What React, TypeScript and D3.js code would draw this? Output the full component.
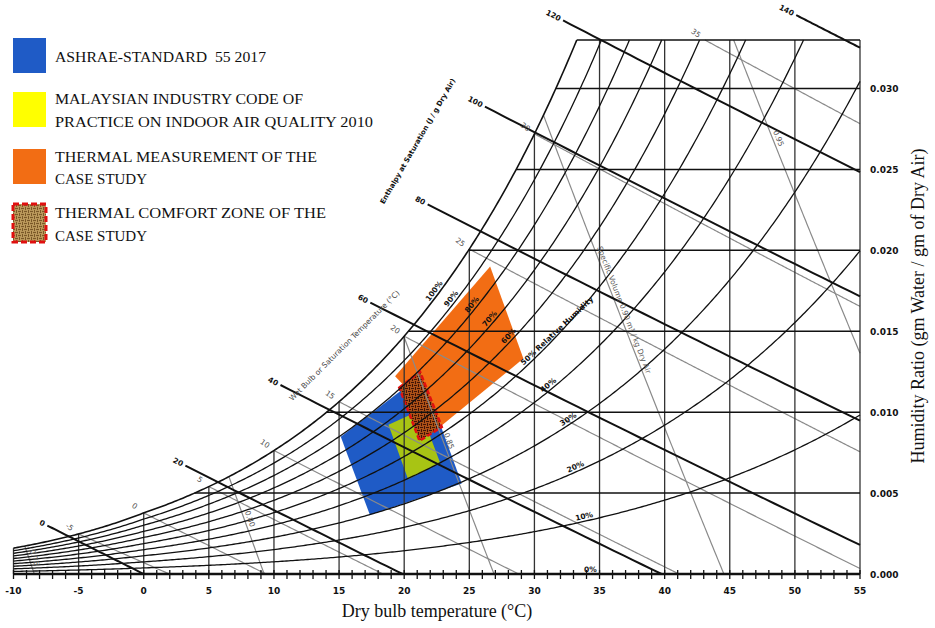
import React from 'react';
import * as d3 from 'd3';

// axis ticks
const dryBulbTicks = [-10, -5, 0, 5, 10, 15, 20, 25, 30, 35, 40, 45, 50, 55];
const humidityTicks = [0, 0.005, 0.01, 0.015, 0.02, 0.025, 0.03];
const humidityTickLabels = ['0.000', '0.005', '0.010', '0.015', '0.020', '0.025', '0.030'];

// relative humidity curves (%), labels and the dry bulb where each label sits
const rhLevels = [0, 10, 20, 30, 40, 50, 60, 70, 80, 90, 100];
const rhLabels = ['0%', '10%', '20%', '30%', '40%', '50% Relative Humidity', '60%', '70%', '80%', '90%', '100%'];
const rhLabelT = [34.3, 33.9, 33.3, 32.8, 31.3, 29.3, 28.3, 26.85, 25.5, 23.9, 22.6];

// enthalpy (J/g dry air) and dry bulb where each line starts outside saturation
const enthalpyLevels = [0, 20, 40, 60, 80, 100, 120, 140];
const enthalpyStartT = [-7.4, 3.2, 10.5, 17.4, 21.8, 26.2, 32.2, 50.1];

// wet bulb lines (°C)
const wetBulbLevels = [-5, 0, 5, 10, 15, 20, 25, 30, 35];
const wetBulbLabels = ['-5', '0', '5', '10', '15', '20', '25', '30', '35'];

// specific volume lines (m3/kg) and humidity ratio where the label sits
const volumeLevels = [0.75, 0.8, 0.85, 0.9, 0.95];
const volumeLabels = ['0.75', '0.80', '0.85', 'Specific Volume 0.90 m³ / kg Dry Air', '0.95'];
const volumeLabelW = [0.0009, 0.0033, 0.0081, 0.0162, 0.0268];

// zones as [dry bulb °C, humidity ratio]
const ashraeZone = [[15.13, 0.00848], [21.37, 0.01233], [24.42, 0.0056], [17.37, 0.00364]];
const malaysianZone = [[18.79, 0.00923], [21.24, 0.01012], [22.76, 0.00688], [20.3, 0.00586]];
const measuredZone = [[19.3, 0.01222], [26.6, 0.01901], [29.15, 0.01331], [22.9, 0.0092]];
const comfortZone = [[19.62, 0.01152], [21.22, 0.01249], [22.89, 0.00909], [21.18, 0.00823]];

const legendLines = [
  ['ASHRAE-STANDARD  55 2017'],
  ['MALAYSIAN INDUSTRY CODE OF', 'PRACTICE ON INDOOR AIR QUALITY 2010'],
  ['THERMAL MEASUREMENT OF THE', 'CASE STUDY'],
  ['THERMAL COMFORT ZONE OF THE', 'CASE STUDY'],
];

const P = 101.325;
const T_MIN = -10;
const T_MAX = 55;
const W_TOP = 0.033;

function psat(t: number) {
  return t >= 0
    ? 0.61121 * Math.exp((18.678 - t / 234.5) * (t / (257.14 + t)))
    : 0.61115 * Math.exp((23.036 - t / 333.7) * (t / (279.82 + t)));
}
const wFromPv = (pv: number) => (0.622 * pv) / (P - pv);
const wSat = (t: number) => wFromPv(psat(t));

function solve(f: (t: number) => number, a: number, b: number) {
  let fa = f(a);
  for (let i = 0; i < 60; i++) {
    const m = (a + b) / 2;
    const fm = f(m);
    if (fm < 0 === fa < 0) {
      a = m;
      fa = fm;
    } else b = m;
  }
  return (a + b) / 2;
}

const tSatOfW = (w: number) => solve((t) => wSat(t) - w, -20, 60);

// sample a curve W(t), keep the part inside 0..W_TOP
function trace(f: (t: number) => number, t0: number, t1: number, n = 300) {
  const pts: number[][] = [];
  const inside = (w: number) => w >= 0 && w <= W_TOP;
  let pt = t0;
  let pw = f(t0);
  if (inside(pw)) pts.push([pt, pw]);
  for (let i = 1; i <= n; i++) {
    const t = t0 + ((t1 - t0) * i) / n;
    const w = f(t);
    if (inside(w) !== inside(pw)) {
      const bound = w > W_TOP || pw > W_TOP ? W_TOP : 0;
      const tc = solve((s) => f(s) - bound, pt, t);
      pts.push([tc, bound]);
    }
    if (inside(w)) pts.push([t, w]);
    pt = t;
    pw = w;
  }
  return pts;
}

const rhFn = (rh: number) => (t: number) => wFromPv((rh / 100) * psat(t));
const wetBulbFn = (twb: number) => {
  const ws = wSat(twb);
  return twb >= 0
    ? (t: number) => ((2501 - 2.326 * twb) * ws - 1.006 * (t - twb)) / (2501 + 1.86 * t - 4.186 * twb)
    : (t: number) => ((2830 - 0.24 * twb) * ws - 1.006 * (t - twb)) / (2830 + 1.86 * t - 2.1 * twb);
};
const volumeFn = (v: number) => (t: number) => ((v * P) / (0.287042 * (t + 273.15)) - 1) / 1.607858;
const enthalpyFn = (h: number) => (t: number) => (h - 1.006 * t) / (2501 + 1.86 * t);

export default function App() {
  const x = d3.scaleLinear().domain([T_MIN, T_MAX]).range([13.5, 860]);
  const y = d3.scaleLinear().domain([0, W_TOP]).range([574, 40]);
  const line = d3
    .line<number[]>()
    .x((d) => x(d[0]))
    .y((d) => y(d[1]));
  const angleAt = (f: (t: number) => number, t: number) => {
    const dt = 0.05;
    return (Math.atan2(y(f(t + dt)) - y(f(t)), x(t + dt) - x(t)) * 180) / Math.PI;
  };

  const rhPaths = rhLevels.filter((r) => r > 0).map((r) => line(trace(rhFn(r), T_MIN, T_MAX, 400)));

  const wetBulb = wetBulbLevels.map((twb) => {
    const pts = trace(wetBulbFn(twb), twb, T_MAX, 300);
    return { pts, d: line(pts) };
  });

  const volumes = volumeLevels.map((v, i) => {
    const f = volumeFn(v);
    const ts = solve((t) => f(t) - wSat(t), -20, 60);
    const pts = trace(f, ts, T_MAX, 200);
    const lw = volumeLabelW[i];
    const lt = solve((t) => f(t) - lw, -20, 80);
    return { d: line(pts), lx: x(lt), ly: y(lw), angle: angleAt(f, lt) };
  });

  const enthalpy = enthalpyLevels.map((h, i) => {
    const f = enthalpyFn(h);
    const t0 = enthalpyStartT[i];
    const t1 = Math.min(T_MAX, h / 1.006);
    const pts = d3.range(0, 41).map((k) => {
      const t = t0 + ((t1 - t0) * k) / 40;
      return [t, f(t)];
    });
    return { d: line(pts), sx: x(t0), sy: y(f(t0)), angle: angleAt(f, t0) };
  });

  const horizontals = [...humidityTicks.filter((w) => w > 0), W_TOP];
  const zonePath = (z: number[][]) => line(z) + 'Z';

  const legendTop = [38, 92, 149, 204];
  const legendBase = [[62.3], [104, 126.7], [162.3, 184.3], [218.3, 241]];
  const legendWidth = [[211], [248, 318], [262, 92], [271, 92]];
  const legendFill = ['#1f5bc6', '#ffff00', '#f26d14', 'url(#weaveLegend)'];

  return (
    <svg
      width={935}
      height={628}
      style={{ position: 'absolute', left: 0, top: 0, background: '#fff' }}
      fontFamily="DejaVu Sans"
    >
      <defs>
        <pattern id="weaveChart" width={6} height={6} patternUnits="userSpaceOnUse">
          <rect width={6} height={6} fill="#d0641c" />
          <path d="M0,1.5H3M3,4.5H6M4.5,0V3M1.5,3V6" stroke="#3f1406" strokeWidth={1.5} />
        </pattern>
        <pattern id="weaveLegend" width={6} height={6} patternUnits="userSpaceOnUse">
          <rect width={6} height={6} fill="#c9a766" />
          <path d="M0,1.5H3M3,4.5H6M4.5,0V3M1.5,3V6" stroke="#7a5828" strokeWidth={1.3} />
        </pattern>
      </defs>

      {/* zones */}
      <path d={zonePath(ashraeZone)} fill="#1f5bc6" />
      <path d={zonePath(malaysianZone)} fill="#a8c414" />
      <path d={zonePath(measuredZone)} fill="#f26d14" />
      <path
        d={zonePath(comfortZone)}
        fill="url(#weaveChart)"
        stroke="#e01010"
        strokeWidth={2.5}
        strokeDasharray="5 2.5"
      />

      {/* specific volume + wet bulb lines */}
      <g fill="none" stroke="#8a8a8a" strokeWidth={1.2}>
        {volumes.map((v, i) => (
          <path key={'v' + i} d={v.d || ''} />
        ))}
        {wetBulb.map((w, i) => (
          <path key={'w' + i} d={w.d || ''} />
        ))}
      </g>

      {/* dry bulb verticals */}
      <g stroke="#333" strokeWidth={1.3}>
        {dryBulbTicks.map((t) => (
          <line key={t} x1={x(t)} x2={x(t)} y1={y(Math.min(wSat(t), W_TOP))} y2={y(0)} />
        ))}
      </g>

      {/* humidity ratio horizontals */}
      <g stroke="#111" strokeWidth={1.5}>
        {horizontals.map((w) => (
          <line key={w} x1={x(tSatOfW(w))} x2={x(T_MAX)} y1={y(w)} y2={y(w)} />
        ))}
      </g>

      {/* relative humidity curves */}
      <g fill="none" stroke="#111" strokeWidth={1.3}>
        {rhPaths.map((d, i) => (
          <path key={i} d={d || ''} strokeWidth={i === rhPaths.length - 1 ? 1.6 : 1.3} />
        ))}
      </g>

      {/* enthalpy lines */}
      <g fill="none" stroke="#111" strokeWidth={2}>
        {enthalpy.map((e, i) => (
          <path key={i} d={e.d || ''} />
        ))}
      </g>

      {/* x axis */}
      <line x1={x(T_MIN)} x2={x(T_MAX)} y1={y(0)} y2={y(0)} stroke="#111" strokeWidth={2.5} />
      <g stroke="#111" strokeWidth={1.3}>
        {d3.range(T_MIN, T_MAX + 1).map((t) => (
          <line key={t} x1={x(t)} x2={x(t)} y1={y(0) - 4} y2={y(0) + 5} />
        ))}
      </g>
      <g fontSize={9} fontWeight="bold" fill="#111" textAnchor="middle">
        {dryBulbTicks.map((t) => (
          <text key={t} x={x(t)} y={594}>
            {t}
          </text>
        ))}
      </g>
      <g fontSize={9} fontWeight="bold" fill="#111">
        {humidityTicks.map((w, i) => (
          <text key={w} x={870} y={y(w) + 3.5}>
            {humidityTickLabels[i]}
          </text>
        ))}
      </g>

      {/* line labels */}
      <g fontSize={7.5} fontWeight="bold" fill="#111">
        {rhLevels.map((r, i) => {
          const t = rhLabelT[i];
          const f = rhFn(r);
          const px = x(t);
          const py = y(f(t));
          const a = r === 0 ? 0 : angleAt(f, t);
          return (
            <text
              key={r}
              transform={`translate(${px},${py}) rotate(${a})`}
              dy={-2.5}
              textAnchor={r === 50 ? 'start' : 'middle'}
            >
              {rhLabels[i]}
            </text>
          );
        })}
      </g>
      <g fontSize={7.5} fontWeight="bold" fill="#111">
        {enthalpy.map((e, i) => (
          <text
            key={i}
            transform={`translate(${e.sx},${e.sy}) rotate(${e.angle})`}
            x={-3}
            dy="0.35em"
            textAnchor="end"
          >
            {enthalpyLevels[i]}
          </text>
        ))}
      </g>
      <g fontSize={7.5} fill="#555" textAnchor="middle">
        {wetBulb.map((w, i) => {
          const p = w.pts[0];
          return (
            <text key={i} transform={`translate(${x(p[0]) - 9},${y(p[1]) - 7}) rotate(35)`} dy="0.35em">
              {wetBulbLabels[i]}
            </text>
          );
        })}
      </g>
      <g fontSize={7.5} fill="#555" textAnchor="middle">
        {volumes.map((v, i) => (
          <text key={i} transform={`translate(${v.lx},${v.ly}) rotate(${v.angle})`} dy={-3}>
            {volumeLabels[i]}
          </text>
        ))}
      </g>
      <text
        transform={`translate(${x(21.2)},${y(0.02667)}) rotate(-60)`}
        fontSize={7}
        fontWeight="bold"
        fill="#111"
        textAnchor="middle"
      >
        Enthalpy at Saturation (J / g Dry Air)
      </text>
      <text
        transform={`translate(${x(15.54)},${y(0.01401)}) rotate(-45)`}
        fontSize={7.5}
        fill="#444"
        textAnchor="middle"
      >
        Wet Bulb or Saturation Temperature (°C)
      </text>

      {/* axis titles */}
      <text x={437} y={617} fontFamily="Liberation Serif" fontSize={18} textAnchor="middle" fill="#111">
        Dry bulb temperature (°C)
      </text>
      <text
        transform="translate(924,306) rotate(-90)"
        fontFamily="Liberation Serif"
        fontSize={18}
        textAnchor="middle"
        fill="#111"
      >
        Humidity Ratio (gm Water / gm of Dry Air)
      </text>

      {/* legend */}
      {legendLines.map((lines, i) => (
        <g key={i}>
          <rect
            x={13}
            y={legendTop[i]}
            width={33}
            height={i === 3 ? 38 : 35}
            fill={legendFill[i]}
            stroke={i === 3 ? '#e01010' : 'none'}
            strokeWidth={i === 3 ? 3 : 0}
            strokeDasharray={i === 3 ? '6 3' : undefined}
          />
          {lines.map((s, j) => (
            <text
              key={j}
              x={55}
              y={legendBase[i][j]}
              fontFamily="Liberation Serif"
              fontSize={15.5}
              fill="#111"
              textLength={legendWidth[i][j]}
              lengthAdjust="spacingAndGlyphs"
              style={{ whiteSpace: 'pre' }}
            >
              {s}
            </text>
          ))}
        </g>
      ))}
    </svg>
  );
}
